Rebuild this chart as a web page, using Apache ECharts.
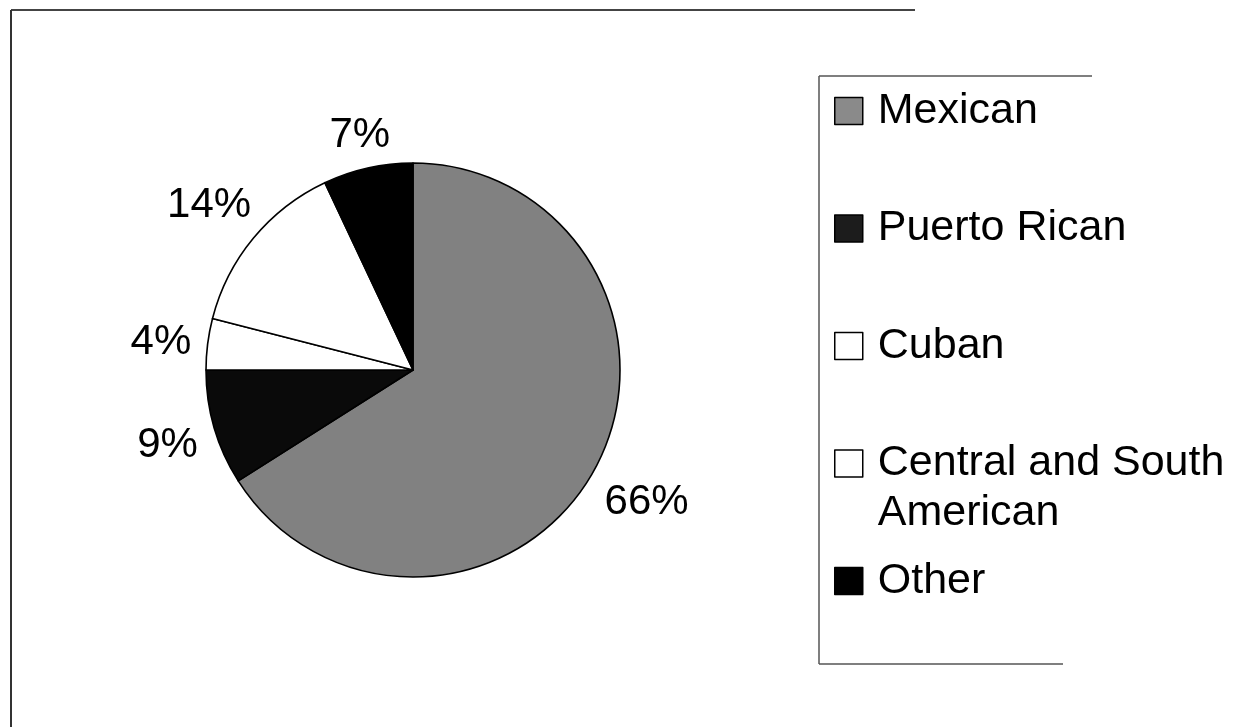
<!DOCTYPE html>
<html>
  <head>
    <meta charset="utf-8" />
    <title>Hispanic origin</title>
    <script src="https://cdn.jsdelivr.net/npm/echarts@6.0.0/dist/echarts.min.js"></script>
    <style>
      html, body { margin: 0; padding: 0; background: #fff; }
    </style>
  </head>
  <body>
    <div id="main" style="width: 1236px; height: 727px"></div>

    <script type="text/javascript">
      // data
      const categories = ['Mexican', 'Puerto Rican', 'Cuban', 'Central and South American', 'Other']
      const shares = [66, 9, 4, 14, 7]
      const fills = ['#818181', '#0a0a0a', '#ffffff', '#ffffff', '#000000']
      const legendMarks = ['#8a8a8a', '#1c1c1c', '#ffffff', '#ffffff', '#000000']

      const font = 'Liberation Sans, Arial, sans-serif'
      const cx = 413
      const cy = 370
      const r = 207
      const labelSize = 42

      const pieData = categories.map((name, i) => ({
        name,
        value: shares[i],
        itemStyle: { color: fills[i] },
      }))

      // one legend per entry so the spacing matches the original (two-line item keeps its box on the first line)
      const legends = categories.map((name, i) => {
        const center = 111 + i * 117.5
        const twoLine = name === 'Central and South American'
        return {
          data: [{ name, itemStyle: { color: legendMarks[i], borderColor: '#000', borderWidth: 1.5 } }],
          left: 834,
          top: center - 25 - (twoLine ? 50 : 0),
          padding: 0,
          itemWidth: 28,
          itemHeight: 27,
          itemGap: 0,
          icon: 'rect',
          selectedMode: false,
          formatter: (n) => (n === 'Central and South American' ? '\nCentral and South\nAmerican' : n),
          textStyle: { fontFamily: font, fontSize: 43, color: '#000', lineHeight: 50, padding: [0, 0, 0, 10] },
        }
      })

      // push each label out along its own direction until its box sits a small gap off the rim
      function placeLabel(params) {
        const rect = params.labelRect
        const lx = rect.x + rect.width / 2
        const ly = rect.y + rect.height / 2
        const len = Math.hypot(lx - cx, ly - cy) || 1
        const ux = (lx - cx) / len
        const uy = (ly - cy) / len
        const d = r + 15 + (rect.width / 2) * Math.abs(ux) + labelSize * 0.38 * Math.abs(uy)
        return { x: cx + ux * d, y: cy + uy * d + 4, align: 'center', verticalAlign: 'middle' }
      }

      var myChart = echarts.init(document.getElementById('main'))

      const option = {
        backgroundColor: '#fff',
        animation: false,
        legend: legends,
        graphic: [
          // outer frame (only top and left visible in the scan)
          { type: 'line', shape: { x1: 11, y1: 10, x2: 915, y2: 10 }, style: { stroke: '#444', lineWidth: 2 } },
          { type: 'line', shape: { x1: 11, y1: 10, x2: 11, y2: 727 }, style: { stroke: '#333', lineWidth: 2 } },
          // legend box
          { type: 'line', shape: { x1: 819, y1: 76, x2: 1092, y2: 76 }, style: { stroke: '#555', lineWidth: 1.5 } },
          { type: 'line', shape: { x1: 819, y1: 76, x2: 819, y2: 664 }, style: { stroke: '#555', lineWidth: 1.5 } },
          { type: 'line', shape: { x1: 819, y1: 664, x2: 1063, y2: 664 }, style: { stroke: '#555', lineWidth: 1.5 } },
        ],
        series: [
          {
            type: 'pie',
            center: [cx, cy],
            radius: r,
            startAngle: 90,
            clockwise: true,
            silent: true,
            label: { show: false },
            labelLine: { show: false },
            itemStyle: { borderColor: '#000', borderWidth: 1.6 },
            data: pieData,
          },
          {
            // invisible ring that only carries the percentage labels
            type: 'pie',
            center: [cx, cy],
            radius: [238, 278],
            startAngle: 90,
            clockwise: true,
            silent: true,
            itemStyle: { color: 'rgba(0,0,0,0)', borderWidth: 0 },
            label: {
              show: true,
              position: 'inside',
              formatter: '{c}%',
              fontFamily: font,
              fontSize: labelSize,
              color: '#000',
            },
            labelLine: { show: false },
            labelLayout: placeLabel,
            data: categories.map((name, i) => ({ name, value: shares[i] })),
          },
        ],
      }

      myChart.setOption(option)
    </script>
  </body>
</html>
